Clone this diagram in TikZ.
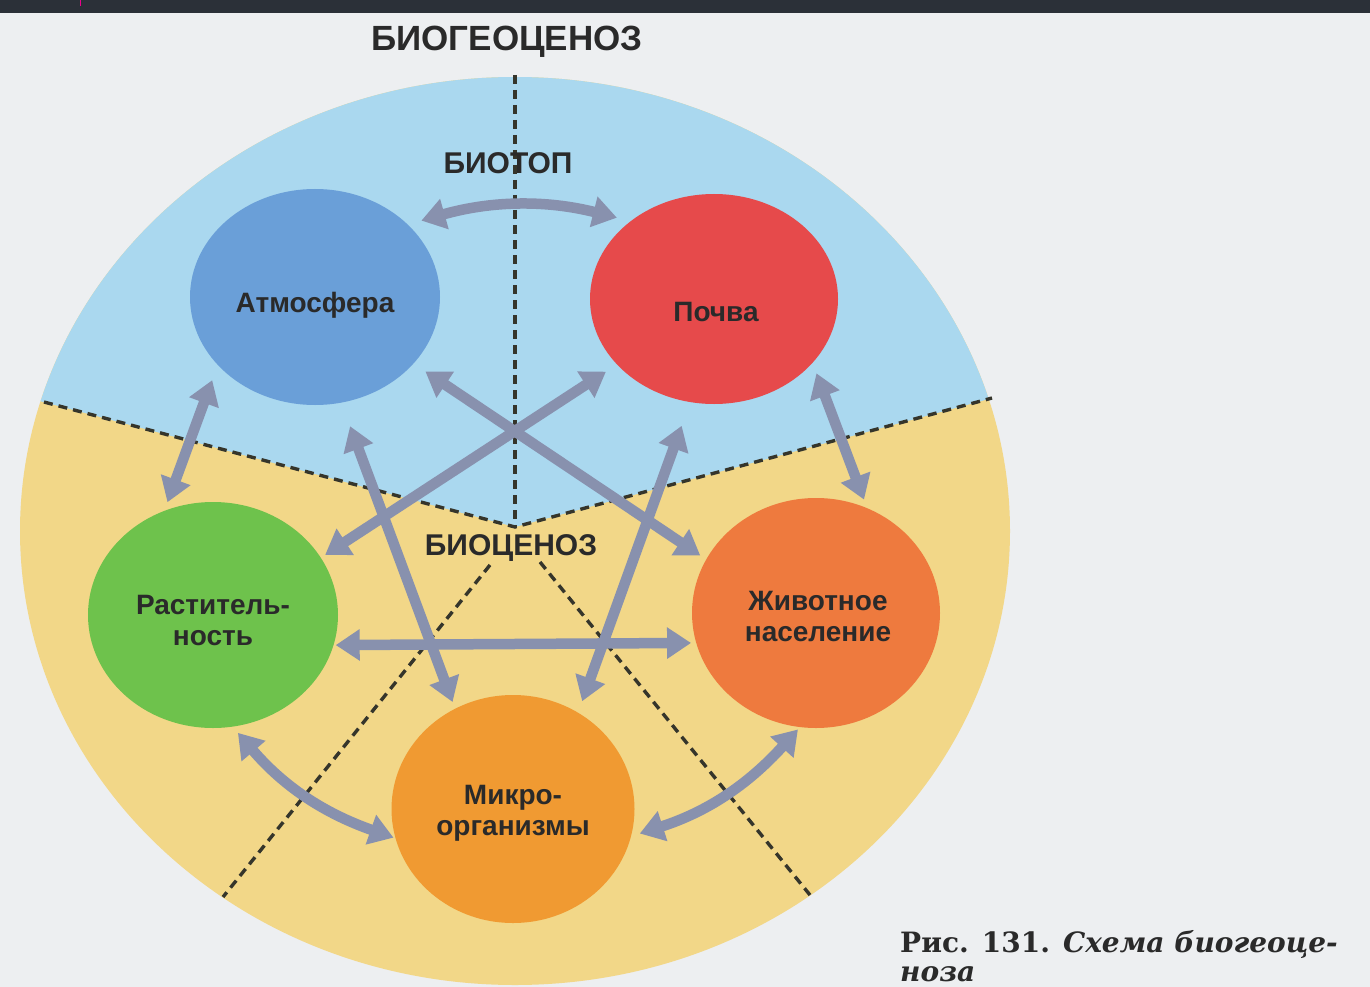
\documentclass[tikz,border=0pt]{standalone}
\usepackage{fontspec}
\setmainfont{Liberation Sans}
\newfontfamily\capfont{DejaVu Serif}
\usetikzlibrary{arrows.meta,shapes.geometric,calc}
\definecolor{pagebg}{HTML}{EDEFF1}
\definecolor{topbar}{HTML}{2B3038}
\definecolor{bioyellow}{HTML}{F2D788}
\definecolor{bioblue}{HTML}{AAD8EF}
\definecolor{arrowc}{HTML}{8891AE}
\definecolor{dashc}{HTML}{35352B}
\definecolor{atmc}{HTML}{6A9FD8}
\definecolor{pocc}{HTML}{E64A4B}
\definecolor{rasc}{HTML}{6EC24C}
\definecolor{zhic}{HTML}{EE7A3E}
\definecolor{micc}{HTML}{F09A32}
\definecolor{txt}{HTML}{2A2A2A}
\begin{document}
\begin{tikzpicture}[x=1pt,y=-1pt,
  sphere/.style={ellipse, inner sep=0pt},
  spheretext/.style={inner sep=0pt, text=txt, font=\fontsize{28}{31}\selectfont\bfseries, align=center},
  link/.style={draw=arrowc, line width=10.5pt, {Triangle[width=30pt,length=24pt]}-{Triangle[width=30pt,length=24pt]}},
  divider/.style={draw=dashc, line width=3.4pt, dash pattern=on 9pt off 6pt},
  zonelabel/.style={font=\fontsize{30}{30}\selectfont\bfseries, text=txt, inner sep=1pt},
  captext/.style={anchor=base west, inner sep=0pt, text=txt, font=\capfont\fontsize{28}{32}\selectfont\bfseries}]
\useasboundingbox (0,0) rectangle (1370,987);
\fill[pagebg] (0,0) rectangle (1370,987);
\fill[topbar] (0,0) rectangle (1370,13);
\draw[magenta, line width=1pt] (80,0) -- (80,6);
% zones
\fill[bioyellow] (515,531) ellipse [x radius=495, y radius=454];
\begin{scope}
  \clip (515,527) -- (-300,311) -- (-300,-100) -- (1600,-100) -- (1600,234) -- cycle;
  \fill[bioblue] (515,531) ellipse [x radius=495, y radius=454];
\end{scope}
\coordinate (hub) at (515,527);
\coordinate (lw) at (44,402);
\coordinate (re) at (992,398);
\coordinate (tp) at (515,75);
\coordinate (la) at (490,565);
\coordinate (lb) at (223,897);
\coordinate (ra) at (540,562);
\coordinate (rb) at (810,895);
\draw[divider] (lw) -- (hub) -- (re);
\draw[divider] (tp) -- (hub);
\draw[divider] (la) -- (lb);
\draw[divider] (ra) -- (rb);
% spheres
\node[sphere, fill=atmc, minimum width=250pt, minimum height=216pt] (atm) at (315,297) {};
\node[sphere, fill=pocc, minimum width=248pt, minimum height=210pt] (poc) at (714,299) {};
\node[sphere, fill=rasc, minimum width=250pt, minimum height=226pt] (ras) at (213,615) {};
\node[sphere, fill=zhic, minimum width=248pt, minimum height=230pt] (zhi) at (816,613) {};
\node[sphere, fill=micc, minimum width=243pt, minimum height=228pt] (mic) at (513,809) {};
% links
\draw[link, shorten <=14pt, shorten >=14pt] (atm.38) to[bend left=15] (poc.137);
\draw[link, shorten <=16pt, shorten >=9pt] (atm.215) -- (ras.115);
\draw[link, shorten <=11pt, shorten >=9pt] (poc.-33) -- (zhi.64);
\draw[link, shorten <=8pt, shorten >=2pt] (ras.-80) to[bend right=15] (mic.194);
\draw[link, shorten <=3pt, shorten >=9pt] (zhi.-98) to[bend left=15] (mic.-13);
\draw[link, shorten <=2pt, shorten >=5pt] (ras.-14) -- (zhi.194);
\draw[link, shorten <=25pt, shorten >=7pt] (atm.-76) -- (mic.120);
\draw[link, shorten <=25pt, shorten >=12pt] (poc.-103) -- (mic.56);
\draw[link, shorten <=14pt, shorten >=7pt] (atm.-34) -- (zhi.154);
\draw[link, shorten <=13pt, shorten >=5pt] (poc.214) -- (ras.28);
% sphere texts
\node[spheretext] (atmT) at ($(atm)+(0,8)$) {Атмосфера};
\node[spheretext] (pocT) at ($(poc)+(2,13)$) {Почва};
\node[spheretext] (rasT) at ($(ras)+(0,5)$) {Раститель-\\ность};
\node[spheretext] (zhiT) at ($(zhi)+(2,3)$) {Животное\\население};
\node[spheretext] (micT) at ($(mic)+(0,4)$) {Микро-\\организмы};
% labels
\node[zonelabel, font=\fontsize{35}{35}\selectfont\bfseries] (title) at (507,42) {БИОГЕОЦЕНОЗ};
\node[zonelabel] (biotop) at (508,163) {БИОТОП};
\node[zonelabel] (biocen) at (511,548) {БИОЦЕНОЗ};
\node[captext] (cap1) at (900,952) {Рис. 131. \textit{Схема биогеоце-}};
\node[captext] (cap2) at (900,981) {\textit{ноза}};
\end{tikzpicture}
\end{document}
